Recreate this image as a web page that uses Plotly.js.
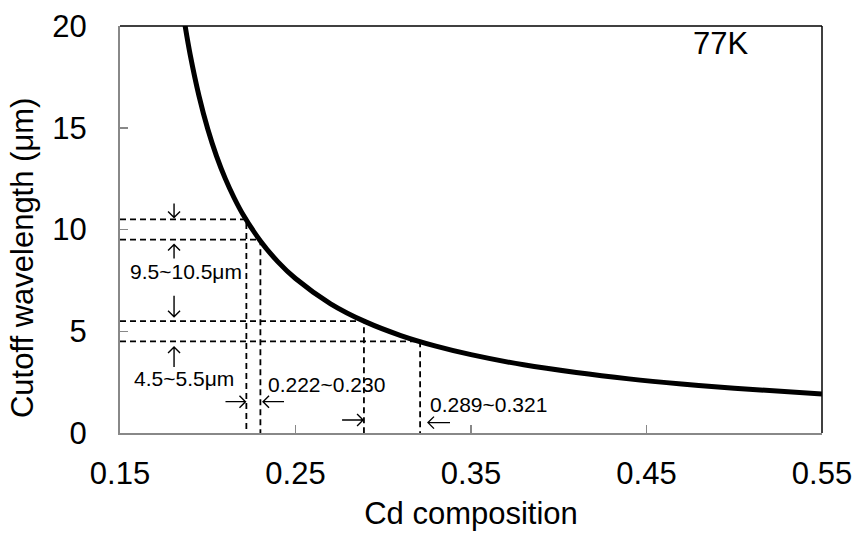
<!DOCTYPE html>
<html>
<head>
<meta charset="utf-8">
<script src="https://cdn.plot.ly/plotly-3.0.1.min.js"></script>
<style>html,body{margin:0;padding:0;background:#fff;}#chart{width:858px;height:536px;}</style>
</head>
<body>
<div id="chart"></div>
<script>
// Cutoff wavelength curve at 77K
const cdComposition = [0.187, 0.19, 0.195, 0.20, 0.205, 0.21, 0.215, 0.22, 0.23, 0.24, 0.25, 0.27, 0.29, 0.31, 0.33, 0.35, 0.38, 0.41, 0.44, 0.47, 0.50, 0.55];
const cutoffWavelength = [20.06, 18.59, 16.57, 14.94, 13.61, 12.50, 11.56, 10.75, 9.44, 8.41, 7.59, 6.35, 5.46, 4.79, 4.27, 3.85, 3.35, 2.97, 2.66, 2.41, 2.20, 1.91];

// Wavelength bands and corresponding composition ranges
const bandLow = [9.5, 4.5];
const bandHigh = [10.5, 5.5];
const compLow = [0.222, 0.289];
const compHigh = [0.230, 0.321];
const bandLabels = ['9.5~10.5μm', '4.5~5.5μm'];
const compLabels = ['0.222~0.230', '0.289~0.321'];
const tempLabel = '77K';

const xMin = 0.15, xMax = 0.55, yMin = 0, yMax = 20;
const xTickVals = [0.15, 0.25, 0.35, 0.45, 0.55];
const xTickText = ['0.15', '0.25', '0.35', '0.45', '0.55'];
const yTickVals = [0, 5, 10, 15, 20];

const FONT = '"Liberation Sans", Arial, sans-serif';
const dashStyle = {color: '#000', width: 1.8, dash: '6px,4px'};

const traces = [];
for (let i = 0; i < bandLow.length; i++) {
  traces.push({x: [xMin, compLow[i], compLow[i]], y: [bandHigh[i], bandHigh[i], yMin],
    mode: 'lines', line: dashStyle, hoverinfo: 'skip', showlegend: false});
  traces.push({x: [xMin, compHigh[i], compHigh[i]], y: [bandLow[i], bandLow[i], yMin],
    mode: 'lines', line: dashStyle, hoverinfo: 'skip', showlegend: false});
}
traces.push({x: cdComposition, y: cutoffWavelength, mode: 'lines',
  line: {color: '#000', width: 5, shape: 'spline', smoothing: 1}, showlegend: false});

function label(x, y, text, size) {
  return {x: x, y: y, xref: 'x', yref: 'y', text: text, showarrow: false,
    xanchor: 'center', yanchor: 'middle', font: {family: FONT, size: size, color: '#000'}};
}

// open-headed arrow marker anchored at its tip (data coords), sized in pixels
function arrowShape(x, y, dir, len) {
  const h = 6;
  let p;
  if (dir === 'down') p = `M0,${len}L0,0M${-h},${h}L0,0L${h},${h}`;
  else if (dir === 'up') p = `M0,${-len}L0,0M${-h},${-h}L0,0L${h},${-h}`;
  else if (dir === 'right') p = `M${-len},0L0,0M${-h},${h}L0,0L${-h},${-h}`;
  else p = `M${len},0L0,0M${h},${h}L0,0L${h},${-h}`;
  return {type: 'path', xref: 'x', yref: 'y', xsizemode: 'pixel', ysizemode: 'pixel',
    xanchor: x, yanchor: y, path: p, line: {color: '#000', width: 1.4}, layer: 'above'};
}

const annotations = [
  label(0.492, 19.16, tempLabel, 31),
  label(0.1876, 7.93, bandLabels[0], 21),
  label(0.1865, 2.68, bandLabels[1], 21),
  label(0.2674, 2.38, compLabels[0], 21),
  label(0.360, 1.38, compLabels[1], 21),
  {text: 'Cutoff wavelength (μm)', xref: 'paper', yref: 'paper', x: -0.138, y: 0.43,
   textangle: -90, showarrow: false, xanchor: 'center', yanchor: 'middle',
   font: {family: FONT, size: 31, color: '#000'}}
];

const shapes = [
  {type: 'line', xref: 'paper', yref: 'paper', x0: 0, x1: 1, y0: 1, y1: 1, line: {color: '#000', width: 1.5}},
  {type: 'line', xref: 'paper', yref: 'paper', x0: 1, x1: 1, y0: 0, y1: 1, line: {color: '#000', width: 1.5}},
  arrowShape(0.1808, 10.59, 'down', 14),
  arrowShape(0.1808, 9.26, 'up', 14),
  arrowShape(0.1808, 5.71, 'down', 21),
  arrowShape(0.1808, 4.23, 'up', 20),
  arrowShape(0.2215, 1.54, 'right', 20),
  arrowShape(0.2315, 1.54, 'left', 21),
  arrowShape(0.2885, 0.64, 'right', 21),
  arrowShape(0.3255, 0.51, 'left', 22)
];

const layout = {
  width: 858, height: 536,
  margin: {l: 120, r: 36, t: 26, b: 103},
  paper_bgcolor: '#fff', plot_bgcolor: '#fff',
  font: {family: FONT, size: 31, color: '#000'},
  showlegend: false,
  xaxis: {
    range: [xMin, xMax], tickvals: xTickVals, ticktext: xTickText,
    ticks: 'inside', ticklen: 8, tickwidth: 1.5, tickcolor: '#888',
    showline: true, linecolor: '#888', linewidth: 2, showgrid: false, zeroline: false,
    tickfont: {family: FONT, size: 31, color: '#000'}, ticklabelstandoff: 12,
    title: {text: 'Cd composition', font: {family: FONT, size: 31, color: '#000'}, standoff: 12}
  },
  yaxis: {
    range: [yMin, yMax], tickvals: yTickVals,
    ticks: 'inside', ticklen: 8, tickwidth: 1.5, tickcolor: '#888',
    showline: true, linecolor: '#888', linewidth: 2, showgrid: false, zeroline: false,
    tickfont: {family: FONT, size: 31, color: '#000'}, ticklabelstandoff: 25
  },
  shapes: shapes,
  annotations: annotations
};

Plotly.newPlot('chart', traces, layout, {staticPlot: true, displayModeBar: false});
</script>
</body>
</html>
